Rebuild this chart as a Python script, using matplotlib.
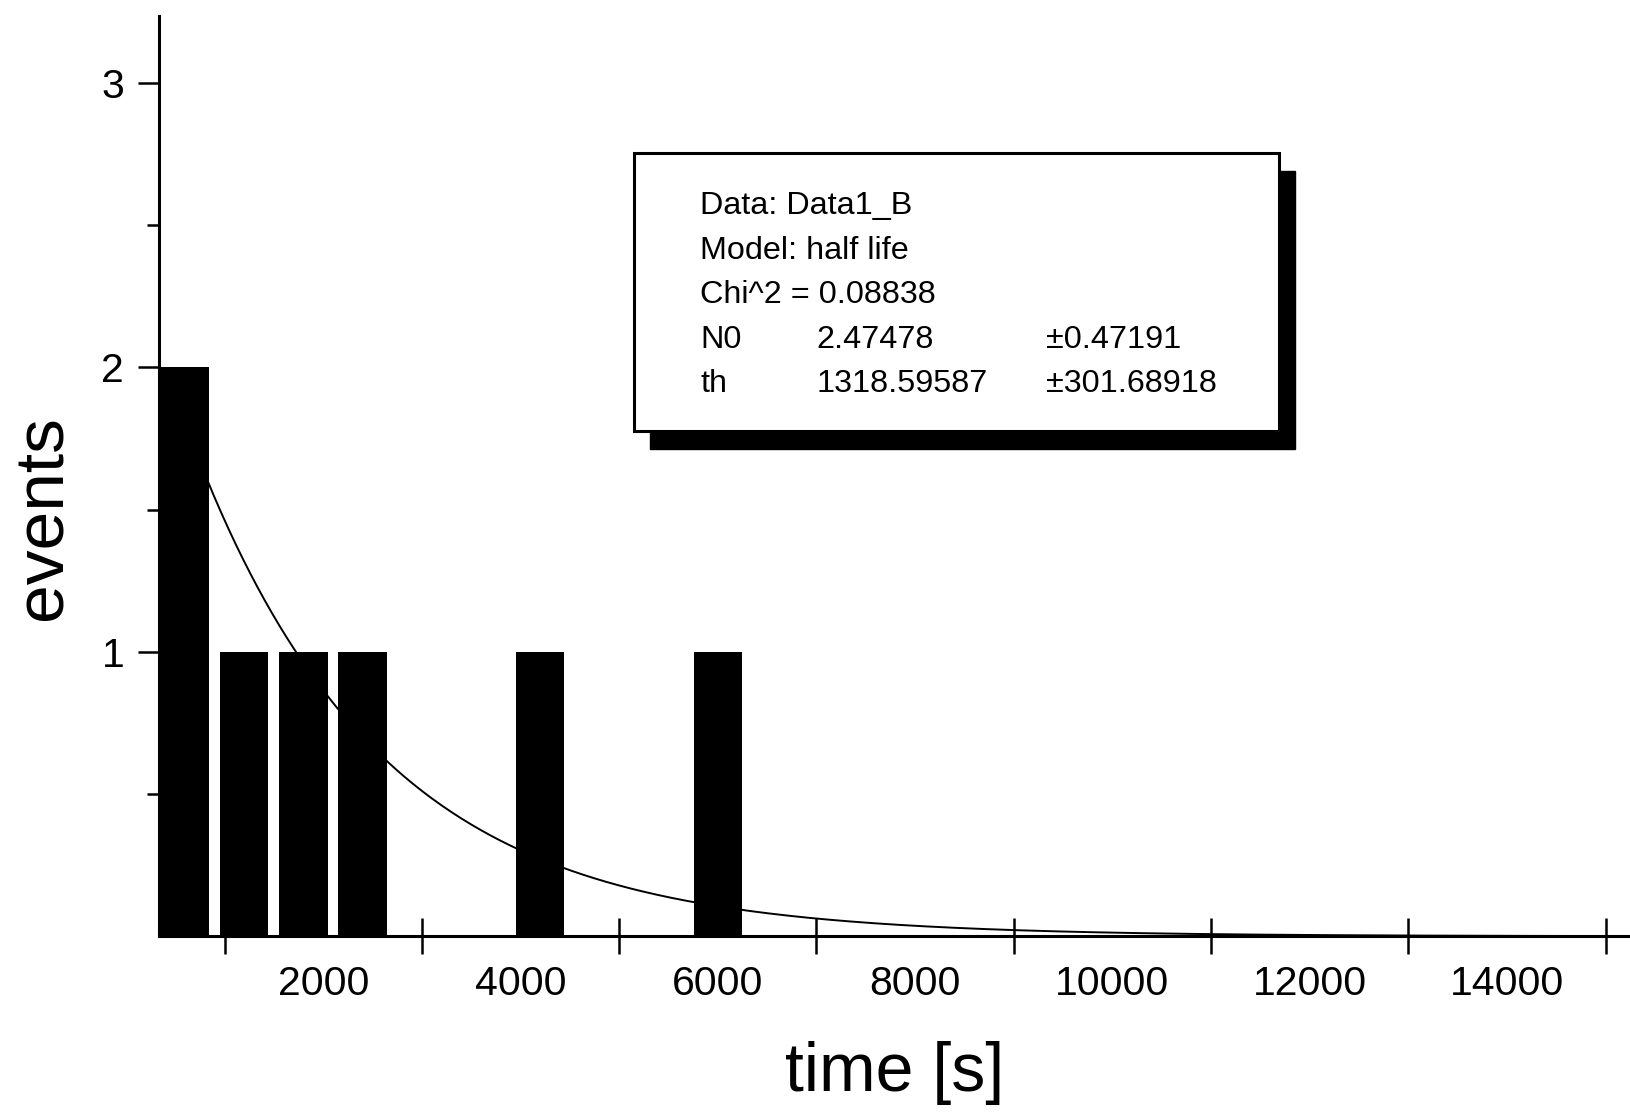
import numpy as np
import matplotlib
matplotlib.use("Agg")
import matplotlib.pyplot as plt
from matplotlib.patches import Rectangle

plt.rcParams['font.family'] = ['Liberation Sans', 'DejaVu Sans']

# histogram of decay events
bin_centers = [600, 1200, 1800, 2400, 4200, 6000]
events = [2, 1, 1, 1, 1, 1]

# fit results (model: half life)
N0 = 2.47478
N0_err = 0.47191
th = 1318.59587
th_err = 301.68918
chi2 = 0.08838

fig = plt.figure(figsize=(16.3, 11.12), dpi=100)
ax = fig.add_axes([0.0975, 0.158, 0.9025, 0.8276])

# fitted curve N(t) = N0 * 2^(-t/th)
t = np.linspace(600, 15300, 600)
ax.plot(t, N0 * 2.0 ** (-t / th), color='black', lw=1.4, zorder=2)

ax.bar(bin_centers, events, width=490, color='black', zorder=3)

ax.set_xlim(335, 15246)
ax.set_ylim(0, 3.235)

for side in ['top', 'right']:
    ax.spines[side].set_visible(False)
for side in ['left', 'bottom']:
    ax.spines[side].set_linewidth(2.2)
    ax.spines[side].set_zorder(4)

# y ticks
ax.set_yticks([1, 2, 3])
ax.set_yticks([0.5, 1.5, 2.5], minor=True)
ax.tick_params(axis='y', which='major', direction='out', length=15, width=1.8,
               labelsize=29.5, pad=10)
ax.tick_params(axis='y', which='minor', direction='out', length=9, width=1.8)

# x: labels at even thousands, tick marks at odd thousands
ax.set_xticks([2000, 4000, 6000, 8000, 10000, 12000, 14000])
ax.set_xticks([1000, 3000, 5000, 7000, 9000, 11000, 13000, 15000], minor=True)
ax.tick_params(axis='x', which='major', length=0, labelsize=29.5, pad=21)
ax.tick_params(axis='x', which='minor', direction='inout', length=26, width=1.8)

ax.set_xlabel('time [s]', fontsize=49, labelpad=27)
ax.set_ylabel('events', fontsize=50)
ax.yaxis.set_label_coords(-0.057, 0.455)

# fit parameter box with drop shadow
bx0, by0, bw, bh = 0.323, 0.5495, 0.4385, 0.3015
ax.add_patch(Rectangle((bx0 + 0.0109, by0 - 0.0196), bw, bh, transform=ax.transAxes,
                       facecolor='black', edgecolor='black', zorder=5))
ax.add_patch(Rectangle((bx0, by0), bw, bh, transform=ax.transAxes,
                       facecolor='white', edgecolor='black', lw=2.2, zorder=6))

fs = 23.3
c1, c2, c3 = 0.368, 0.447, 0.603
rows = [0.794, 0.745, 0.697, 0.648, 0.600]
ax.text(c1, rows[0], 'Data: Data1_B', transform=ax.transAxes, fontsize=fs, va='center', zorder=7)
ax.text(c1, rows[1], 'Model: half life', transform=ax.transAxes, fontsize=fs, va='center', zorder=7)
ax.text(c1, rows[2], f'Chi^2 = {chi2:.5f}', transform=ax.transAxes, fontsize=fs, va='center', zorder=7)
ax.text(c1, rows[3], 'N0', transform=ax.transAxes, fontsize=fs, va='center', zorder=7)
ax.text(c2, rows[3], f'{N0:.5f}', transform=ax.transAxes, fontsize=fs, va='center', zorder=7)
ax.text(c3, rows[3], f'\u00b1{N0_err:.5f}', transform=ax.transAxes, fontsize=fs, va='center', zorder=7)
ax.text(c1, rows[4], 'th', transform=ax.transAxes, fontsize=fs, va='center', zorder=7)
ax.text(c2, rows[4], f'{th:.5f}', transform=ax.transAxes, fontsize=fs, va='center', zorder=7)
ax.text(c3, rows[4], f'\u00b1{th_err:.5f}', transform=ax.transAxes, fontsize=fs, va='center', zorder=7)

fig.savefig('out.png', dpi=100)
